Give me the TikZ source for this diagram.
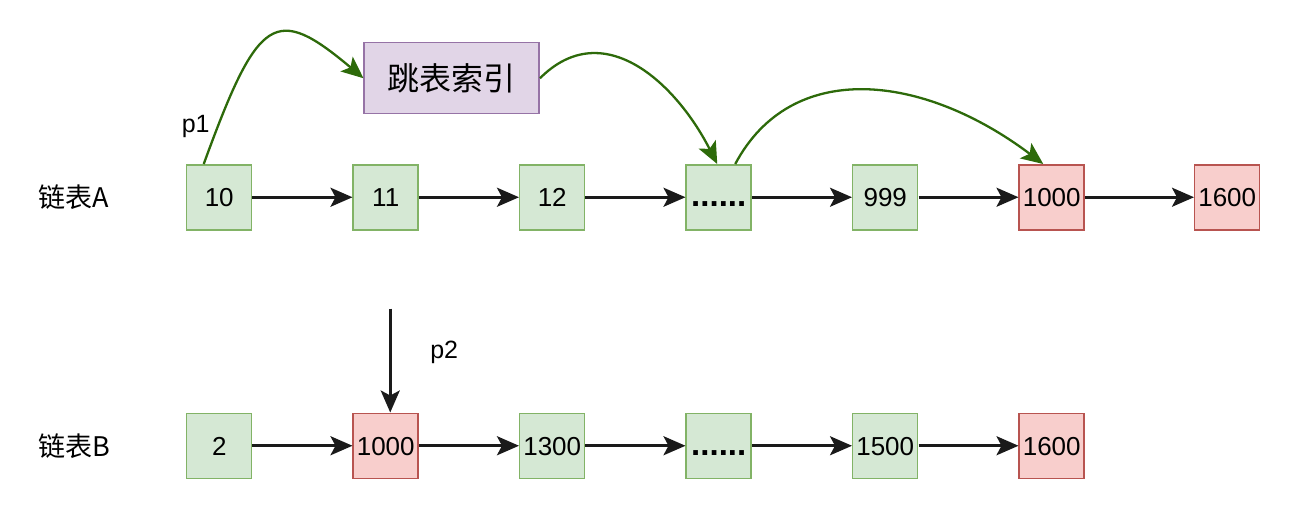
\documentclass[tikz,border=0pt]{standalone}
\usepackage{fontspec}
\setmainfont{Liberation Sans}
\newfontfamily\cjk{Noto Sans CJK SC}
\usetikzlibrary{arrows.meta,positioning}

\definecolor{elemfill}{HTML}{D5E8D4}
\definecolor{elemline}{HTML}{82B366}
\definecolor{hitfill}{HTML}{F8CECC}
\definecolor{hitline}{HTML}{B85450}
\definecolor{idxfill}{HTML}{E1D5E7}
\definecolor{idxline}{HTML}{9673A6}
\definecolor{jumpgreen}{HTML}{2D6A0A}
\definecolor{linkgray}{HTML}{1A1A1A}

\begin{document}
\begin{tikzpicture}[thick]
    % `elem' is a plain list element, `hit' a value found in both lists.
    % `skipidx' is the index box, `jump' its green pointers.
    \tikzstyle{elem} = [draw=elemline,fill=elemfill,line width=1.5pt,minimum size=65pt,inner sep=0pt,text height=19pt,text depth=0pt,font=\fontsize{26}{30}\selectfont]
    \tikzstyle{hit} = [elem,draw=hitline,fill=hitfill]
    \tikzstyle{listname} = [inner sep=0pt,font=\cjk\fontsize{27}{30}\selectfont]
    \tikzstyle{ptrname} = [inner sep=0pt,font=\fontsize{25}{30}\selectfont]
    \tikzstyle{skipidx} = [draw=idxline,fill=idxfill,line width=1.5pt,minimum width=175pt,minimum height=71pt,font=\cjk\fontsize{32}{36}\selectfont]
    \tikzstyle{link} = [draw=linkgray,line width=2.8pt,-{Stealth[length=22pt,width=19pt,inset=5pt]}]
    \tikzstyle{jump} = [link,draw=jumpgreen,line width=2.3pt]
    %
    \matrix[row sep=182pt, column sep=100pt] (lists) {
      \node[listname] (nameA) {链表A}; &[-24pt]
      \node[elem] (a10) {10}; &
      \node[elem] (a11) {11}; &
      \node[elem] (a12) {12}; &
      \node[elem] (adots) {\textbf{\fontsize{33}{33}\selectfont......}}; &
      \node[elem] (a999) {999}; &
      \node[hit] (a1000) {1000}; &[9pt]
      \node[hit] (a1600) {1600}; \\

      \node[listname] (nameB) {链表B}; &[-24pt]
      \node[elem] (b2) {2}; &
      \node[hit] (b1000) {1000}; &
      \node[elem] (b1300) {1300}; &
      \node[elem] (bdots) {\textbf{\fontsize{33}{33}\selectfont......}}; &
      \node[elem] (b1500) {1500}; &
      \node[hit] (b1600) {1600}; &[9pt]
      \\
    };
    % Page size, taken from the first element.
    \coordinate (pagetl) at ([shift={(-186pt,164pt)}]a10.north west);
    \coordinate (pagebr) at ([shift={(1104pt,-350pt)}]a10.north west);
    \path[use as bounding box] (pagetl) rectangle (pagebr);
    % Links of both lists.
    \draw[link] (a10) -- (a11);
    \draw[link] (a11) -- (a12);
    \draw[link] (a12) -- (adots);
    \draw[link] (adots) -- (a999);
    \draw[link] (a999) -- (a1000);
    \draw[link] (a1000) -- (a1600);
    \draw[link] (b2) -- (b1000);
    \draw[link] (b1000) -- (b1300);
    \draw[link] (b1300) -- (bdots);
    \draw[link] (bdots) -- (b1500);
    \draw[link] (b1500) -- (b1600);
    % Index and its jumps.
    \node[skipidx] (idx) at ([xshift=66pt,yshift=119pt]a11.center) {跳表索引};
    \node[ptrname] (p1) at ([xshift=-23.5pt,yshift=70.5pt]a10.center) {p1};
    \draw[jump] ([xshift=-15.5pt]a10.north) .. controls +(70:160pt) and +(140:115pt) .. (idx.west);
    \draw[jump] (idx.east) .. controls +(45:90pt) and +(117:90pt) .. ([xshift=-1.5pt]adots.north);
    \draw[jump] ([xshift=16.5pt]adots.north) .. controls +(62:120pt) and +(143:150pt) .. ([xshift=-8.5pt]a1000.north);
    % Pointer into list B.
    \coordinate (p2from) at ([xshift=4.5pt,yshift=104pt]b1000.north);
    \draw[link] (p2from) -- (p2from |- b1000.north);
    \node[ptrname] (p2) at ([xshift=58.5pt,yshift=93.5pt]b1000.center) {p2};
\end{tikzpicture}
\end{document}
